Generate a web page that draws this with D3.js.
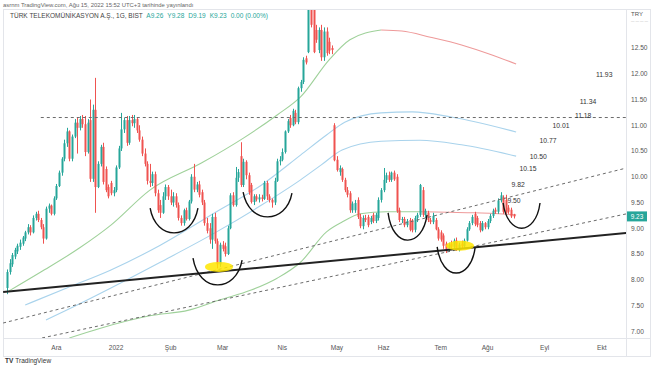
<!DOCTYPE html>
<html><head><meta charset="utf-8">
<script src="https://cdn.jsdelivr.net/npm/d3@7"></script>
<style>body{margin:0;background:#fff;}svg{display:block;font-family:"Liberation Sans",Arial,sans-serif;}</style>
</head><body><svg id="c" width="654" height="366"></svg>
<script>
// ---------- DATA ----------
const openP=[7.84,8.15,8.30,8.45,8.55,8.64,8.70,8.80,8.92,9.02,
8.92,9.20,9.28,9.16,9.02,8.80,9.38,9.44,9.28,9.58,
9.82,10.08,10.35,10.65,10.88,10.35,10.78,11.05,10.95,11.12,
11.02,10.48,11.10,9.96,11.30,9.80,10.25,10.58,10.15,9.80,
9.88,9.68,9.74,10.18,10.55,10.92,11.10,10.66,11.10,11.04,
11.12,10.90,10.72,10.45,10.25,9.92,9.88,10.05,9.68,9.45,
9.30,9.62,9.80,9.62,9.50,9.62,9.45,9.20,9.10,9.35,
9.18,9.52,10.00,9.75,9.85,9.70,9.50,9.10,9.00,8.78,
9.22,8.75,8.30,8.68,8.65,8.50,9.00,9.64,9.45,9.98,
10.40,9.84,10.29,10.03,9.84,9.51,9.62,9.56,9.60,9.57,
9.88,9.62,9.55,9.50,9.92,10.30,10.33,10.48,10.88,11.14,
11.00,11.24,11.06,11.72,11.84,12.30,12.42,13.25,13.24,12.85,
12.46,12.85,12.32,12.82,12.62,12.50,11.00,10.33,10.09,10.15,
9.94,9.74,9.68,9.35,9.35,9.55,9.22,9.04,9.20,9.22,
9.12,9.26,9.14,9.20,9.55,9.74,9.94,10.03,9.94,10.08,
10.00,9.35,9.16,9.18,9.06,9.16,9.14,8.97,9.20,9.26,
9.74,9.26,9.30,9.16,9.12,9.16,8.98,8.92,8.86,8.70,
8.58,8.70,8.64,8.76,8.60,8.70,8.65,8.76,8.98,9.10,
9.28,9.20,9.10,8.96,9.10,9.02,9.14,9.24,9.36,9.32,
9.54,9.60,9.55,9.40,9.36,9.26];
const highP=[8.20,8.40,8.52,8.62,8.70,8.78,8.85,8.95,9.08,9.06,
9.25,9.32,9.34,9.20,9.08,9.42,9.48,9.46,9.62,9.86,
10.12,10.38,10.72,10.95,10.90,10.82,11.12,11.15,11.18,11.20,
11.18,11.12,11.50,11.40,11.92,10.30,10.62,10.66,10.20,9.85,
9.92,9.80,10.22,10.60,11.24,11.15,11.18,11.18,11.20,11.20,
11.16,11.00,10.78,10.55,10.30,10.25,10.10,10.10,9.75,9.55,
9.70,9.85,9.84,9.75,9.70,9.68,9.50,9.25,9.38,9.40,
9.55,10.05,10.25,9.90,9.92,9.75,9.55,9.20,9.10,9.28,
9.30,8.80,8.72,8.75,8.72,9.05,9.68,9.70,10.19,10.15,
10.67,10.35,10.32,10.08,9.88,9.66,9.66,9.66,9.65,9.92,
9.92,9.66,9.58,9.98,10.35,10.40,10.55,10.90,11.12,11.20,
11.32,11.30,11.75,11.88,12.32,12.35,13.30,13.30,13.28,12.95,
12.90,12.95,12.90,12.90,12.70,12.55,11.04,10.40,10.22,10.18,
9.98,9.80,9.72,9.52,9.55,9.60,9.28,9.25,9.26,9.26,
9.24,9.30,9.30,9.60,9.78,10.17,10.08,10.10,10.10,10.12,
10.05,9.40,9.22,9.22,9.18,9.20,9.18,9.24,9.30,9.86,
9.80,9.38,9.34,9.20,9.30,9.20,9.02,8.96,8.90,8.74,
8.72,8.76,8.80,8.82,8.72,8.76,8.80,9.02,9.14,9.26,
9.32,9.24,9.14,9.14,9.12,9.18,9.28,9.38,9.40,9.58,
9.70,9.64,9.65,9.45,9.40,9.28];
const lowP=[7.72,8.10,8.25,8.40,8.50,8.58,8.66,8.75,8.88,8.86,
8.90,9.15,9.12,8.98,8.70,8.78,9.30,9.25,9.25,9.55,
9.80,10.02,10.30,10.58,10.30,10.30,10.75,10.45,10.90,10.95,
10.40,10.45,9.90,9.90,9.30,9.78,10.20,9.85,9.70,9.58,
9.64,9.62,9.70,10.15,10.50,10.85,10.60,10.62,10.98,10.95,
10.85,10.68,10.40,10.20,9.85,9.80,9.82,9.62,9.30,9.20,
9.28,9.55,9.55,9.45,9.42,9.40,9.15,9.05,9.05,9.15,
9.15,9.48,9.70,9.70,9.60,9.45,9.05,8.90,8.70,8.60,
8.70,8.22,8.25,8.55,8.45,8.48,8.98,9.42,9.42,9.90,
9.80,9.80,9.95,9.65,9.48,9.45,9.52,9.50,9.52,9.55,
9.55,9.50,9.40,9.45,9.90,10.22,10.30,10.45,10.85,10.95,
10.98,11.02,11.02,11.65,11.80,12.18,12.40,12.90,12.40,12.60,
12.40,12.25,12.25,12.35,12.38,12.38,10.30,10.10,10.02,9.90,
9.70,9.60,9.30,9.30,9.30,9.18,9.00,8.98,9.12,9.02,
9.08,9.10,9.10,9.15,9.50,9.70,9.88,9.90,9.90,9.92,
9.30,9.12,9.10,9.02,9.02,8.94,8.92,8.92,9.12,9.22,
9.22,9.20,9.12,9.08,9.08,8.96,8.76,8.74,8.60,8.52,
8.54,8.60,8.60,8.56,8.55,8.60,8.62,8.74,8.95,9.06,
9.04,9.02,8.92,8.94,8.98,8.98,9.10,9.20,9.28,9.28,
9.50,9.28,9.28,9.28,9.20,9.19];
const closeP=[8.15,8.32,8.48,8.58,8.66,8.72,8.82,8.92,9.02,8.92,
9.20,9.28,9.16,9.02,8.80,9.38,9.44,9.28,9.58,9.82,
10.08,10.35,10.65,10.88,10.35,10.78,11.05,10.95,11.12,11.02,
10.48,11.05,9.96,11.30,9.80,10.25,10.58,9.90,9.74,9.62,
9.68,9.74,10.18,10.55,10.92,11.10,10.66,11.10,11.04,11.12,
10.90,10.72,10.45,10.25,9.92,9.88,10.05,9.68,9.35,9.30,
9.62,9.80,9.62,9.50,9.62,9.45,9.20,9.10,9.35,9.18,
9.52,10.00,9.75,9.85,9.65,9.50,9.10,8.95,8.78,9.22,
8.75,8.30,8.68,8.60,8.50,9.00,9.64,9.45,9.98,10.09,
9.84,10.29,10.03,9.70,9.51,9.62,9.56,9.60,9.57,9.88,
9.62,9.55,9.50,9.92,10.30,10.33,10.48,10.88,11.08,11.00,
11.28,11.06,11.72,11.84,12.27,12.22,13.25,12.95,12.42,12.66,
12.85,12.32,12.82,12.40,12.45,12.46,10.32,10.13,10.17,9.94,
9.74,9.65,9.35,9.48,9.49,9.22,9.04,9.20,9.16,9.06,
9.20,9.14,9.26,9.55,9.74,9.94,10.03,9.94,10.08,9.95,
9.33,9.16,9.18,9.06,9.14,8.97,8.96,9.20,9.26,9.84,
9.26,9.34,9.16,9.12,9.24,8.98,8.80,8.78,8.66,8.58,
8.68,8.64,8.76,8.60,8.68,8.65,8.76,8.98,9.10,9.22,
9.08,9.06,8.96,9.10,9.02,9.14,9.24,9.34,9.32,9.54,
9.64,9.32,9.30,9.32,9.23,9.23];

const firstDate="2021-11-04";
const holidays=["2022-05-02","2022-05-03","2022-05-04","2022-05-19","2022-07-11","2022-07-12","2022-07-15","2022-08-30"];
const monthLabels=["Ara","2022","Şub","Mar","Nis","May","Haz","Tem","Ağu","Eyl","Ekt"];
const priceTicks=[7.00,7.50,8.00,8.50,9.00,9.50,10.00,10.50,11.00,11.50,12.00,12.50];
const lastPrice=9.23;

// moving-average style lines: [bar index, price]
const ma1Up=[[0,7.76],[13,8.15],[28,8.62],[40,9.06],[55,9.74],[75,10.27],[91,10.75],[104,11.20],[113,11.55],[124,12.27],[132,12.66],[144,12.85]];
const ma1Down=[[144,12.85],[152,12.83],[163,12.71],[175,12.56],[187,12.36],[196,12.19]];
const ma2Up=[[24,6.87],[36,7.06],[55,7.30],[70,7.41],[82,7.61],[94,7.80],[104,8.03],[113,8.34],[123,8.93],[129,9.12],[136,9.28],[146,9.32],[160,9.32]];
const ma2Down=[[160,9.32],[170,9.31],[180,9.30],[196,9.26]];
const blueA=[[7,7.51],[23,7.84],[40,8.19],[59,8.67],[80,9.30],[98,9.84],[113,10.42],[123,10.81],[130,11.06],[144,11.24],[156,11.26],[171,11.16],[196,10.87]];
const blueB=[[15,7.22],[27,7.51],[40,7.84],[59,8.34],[80,8.91],[98,9.45],[113,9.94],[121,10.23],[129,10.52],[144,10.69],[159,10.71],[175,10.62],[196,10.40]];

// drawn trend lines: [[bar,price],[bar,price]]
const solidTrend=[[-1.5,7.76],[238.5,8.91]];
const dashedTrends=[
  [[13,11.15],[238.5,11.15]],
  [[-1.5,7.16],[238.5,10.17]],
  [[13.5,6.87],[238.5,9.28]]
];
// cups: start, bottom, end
const cups=[
  [[55.1,9.39],[64.7,8.91],[73.5,9.39]],
  [[90.9,9.70],[100.1,9.22],[109.7,9.68]],
  [[71.6,8.42],[81.2,7.90],[90.5,8.38]],
  [[146.7,9.30],[154.4,8.77],[161.7,9.26]],
  [[165.6,8.64],[173.3,8.13],[180.2,8.62]],
  [[191,9.49],[198.3,9.00],[205.2,9.49]]
];
const highlights=[[81.6,8.25],[174.4,8.66]];
const levelLabels=["11.93","11.34","11.18","10.01","10.77","10.50","10.15","9.82","9.50"];
const levelAnchors=[[229.9,11.98],[223.7,11.45],[221.8,11.18],[213.3,10.99],[208.3,10.71],[204.5,10.40],[200.6,10.15],[196.8,9.84],[195.2,9.53]];

// ---------- CHART ----------
const svg=d3.select("#c");
const L=3,R=626,T=10,B=338;
const x=d3.scaleLinear().domain([-1.55,238.3]).range([L,R]);
const y=d3.scaleLinear().domain([7,12.5]).range([331.25,48]);

// trading calendar
const hol=new Set(holidays);
const fmt=d3.utcFormat("%Y-%m-%d");
const dates=[];
let d=new Date(firstDate+"T00:00:00Z");
while(dates.length<240){
  const wd=d.getUTCDay();
  if(wd!==0&&wd!==6&&!hol.has(fmt(d))) dates.push(new Date(d));
  d=d3.utcDay.offset(d,1);
}
const monthStarts=[];
for(let i=1;i<dates.length;i++){ if(dates[i].getUTCMonth()!==dates[i-1].getUTCMonth()) monthStarts.push(i); }

svg.append("rect").attr("width",654).attr("height",366).attr("fill","#fff");
svg.append("defs").append("clipPath").attr("id","plot").append("rect").attr("x",L).attr("y",T).attr("width",R-L).attr("height",B-T);

// frame
const frame=svg.append("g").attr("stroke","#e3e5ea").attr("fill","none");
frame.append("rect").attr("x",3.5).attr("y",9.5).attr("width",647).attr("height",347);
frame.append("line").attr("x1",3).attr("x2",651).attr("y1",B+0.5).attr("y2",B+0.5);
frame.append("line").attr("x1",R+0.5).attr("x2",R+0.5).attr("y1",9).attr("y2",357);

const plot=svg.append("g").attr("clip-path","url(#plot)");
const line=d3.line().x(p=>x(p[0])).y(p=>y(p[1])).curve(d3.curveMonotoneX);

// MA lines
[[blueB,"#a9d3ec"],[blueA,"#a9d3ec"],[ma2Up,"#9fd19a"],[ma2Down,"#ee9a9a"],[ma1Up,"#9fd19a"],[ma1Down,"#ee9a9a"]].forEach(([pts,c])=>{
  plot.append("path").attr("d",line(pts)).attr("fill","none").attr("stroke",c).attr("stroke-width",1.1);
});

// candles
const up="#26a69a",dn="#ef5350";
const cg=plot.append("g");
closeP.forEach((c,i)=>{
  const o=openP[i],col=c>=o?up:dn,cx=Math.round(x(i))+0.5;
  cg.append("line").attr("x1",cx).attr("x2",cx).attr("y1",y(highP[i])).attr("y2",y(lowP[i])).attr("stroke",col).attr("stroke-width",1);
  const top=y(Math.max(o,c)),bot=y(Math.min(o,c));
  cg.append("rect").attr("x",cx-1).attr("y",top).attr("width",2).attr("height",Math.max(0.8,bot-top)).attr("fill",col);
});

// dashed trend lines
dashedTrends.forEach(t=>{
  plot.append("line").attr("x1",x(t[0][0])).attr("y1",y(t[0][1])).attr("x2",x(t[1][0])).attr("y2",y(t[1][1]))
    .attr("stroke","#6b6b6b").attr("stroke-width",1).attr("stroke-dasharray","3,3");
});
// solid trend line
plot.append("line").attr("x1",x(solidTrend[0][0])).attr("y1",y(solidTrend[0][1])).attr("x2",x(solidTrend[1][0])).attr("y2",y(solidTrend[1][1]))
  .attr("stroke","#222").attr("stroke-width",2);

// cups
cups.forEach(([a,b,c])=>{
  const x0=x(a[0]),y0=y(a[1]),yb=y(b[1]),x2=x(c[0]),y2=y(c[1]),w=x2-x0;
  const p=d3.path();
  p.moveTo(x0,y0);
  p.bezierCurveTo(x0+0.12*w,(4*yb-y0)/3,x2-0.12*w,(4*yb-y2)/3,x2,y2);
  plot.append("path").attr("d",p.toString()).attr("fill","none").attr("stroke","#111").attr("stroke-width",1.4);
});

// highlights
highlights.forEach(h=>{
  plot.append("ellipse").attr("cx",x(h[0])).attr("cy",y(h[1])).attr("rx",14).attr("ry",5)
    .attr("fill","#ffe600").attr("fill-opacity",0.85);
});

// level labels
levelLabels.forEach((t,i)=>{
  svg.append("text").attr("x",x(levelAnchors[i][0])).attr("y",y(levelAnchors[i][1])).attr("dy","0.35em")
    .attr("text-anchor","middle").attr("font-size",6.8).attr("fill","#333").text(t);
});

// price axis
const pa=svg.append("g").attr("font-size",6.6).attr("fill","#555");
priceTicks.forEach(v=>{
  pa.append("text").attr("x",631).attr("y",y(v)).attr("dy","0.35em").text(d3.format(".2f")(v));
});
pa.append("text").attr("x",631).attr("y",16).attr("font-size",6).text("TRY");
pa.append("text").attr("x",631).attr("y",22).attr("font-size",3.5).attr("fill","#aaa").text("— — — —");
svg.append("rect").attr("x",627).attr("y",y(lastPrice)-5).attr("width",20).attr("height",10).attr("fill","#26a69a");
svg.append("text").attr("x",637).attr("y",y(lastPrice)).attr("dy","0.35em").attr("text-anchor","middle")
  .attr("font-size",6.4).attr("fill","#fff").text(d3.format(".2f")(lastPrice));

// time axis
const ta=svg.append("g").attr("font-size",6.6).attr("fill","#555");
monthStarts.forEach((idx,k)=>{
  if(k<monthLabels.length && x(idx)<R) ta.append("text").attr("x",x(idx)).attr("y",350).attr("text-anchor","middle").text(monthLabels[k]);
});

// header
svg.append("text").attr("x",3).attr("y",7).attr("font-size",5.9).attr("fill","#666")
  .text("asrnm TradingView.com, Ağu 15, 2022 15:52 UTC+3 tarihinde yayınlandı");
const hdr=svg.append("text").attr("x",10).attr("y",18).attr("font-size",6.5).attr("fill","#444");
hdr.append("tspan").text("TÜRK TELEKOMÜNİKASYON A.Ş., 1G, BIST");
["A9.26","Y9.28","D9.19","K9.23","0.00 (0.00%)"].forEach(s=>hdr.append("tspan").attr("dx",4).attr("fill","#26a69a").text(s));

// footer logo
const ft=svg.append("text").attr("x",5).attr("y",363).attr("font-size",6.5).attr("fill","#333");
ft.append("tspan").attr("font-weight","bold").text("TV");
ft.append("tspan").attr("dx",2).text("TradingView");
</script></body></html>
